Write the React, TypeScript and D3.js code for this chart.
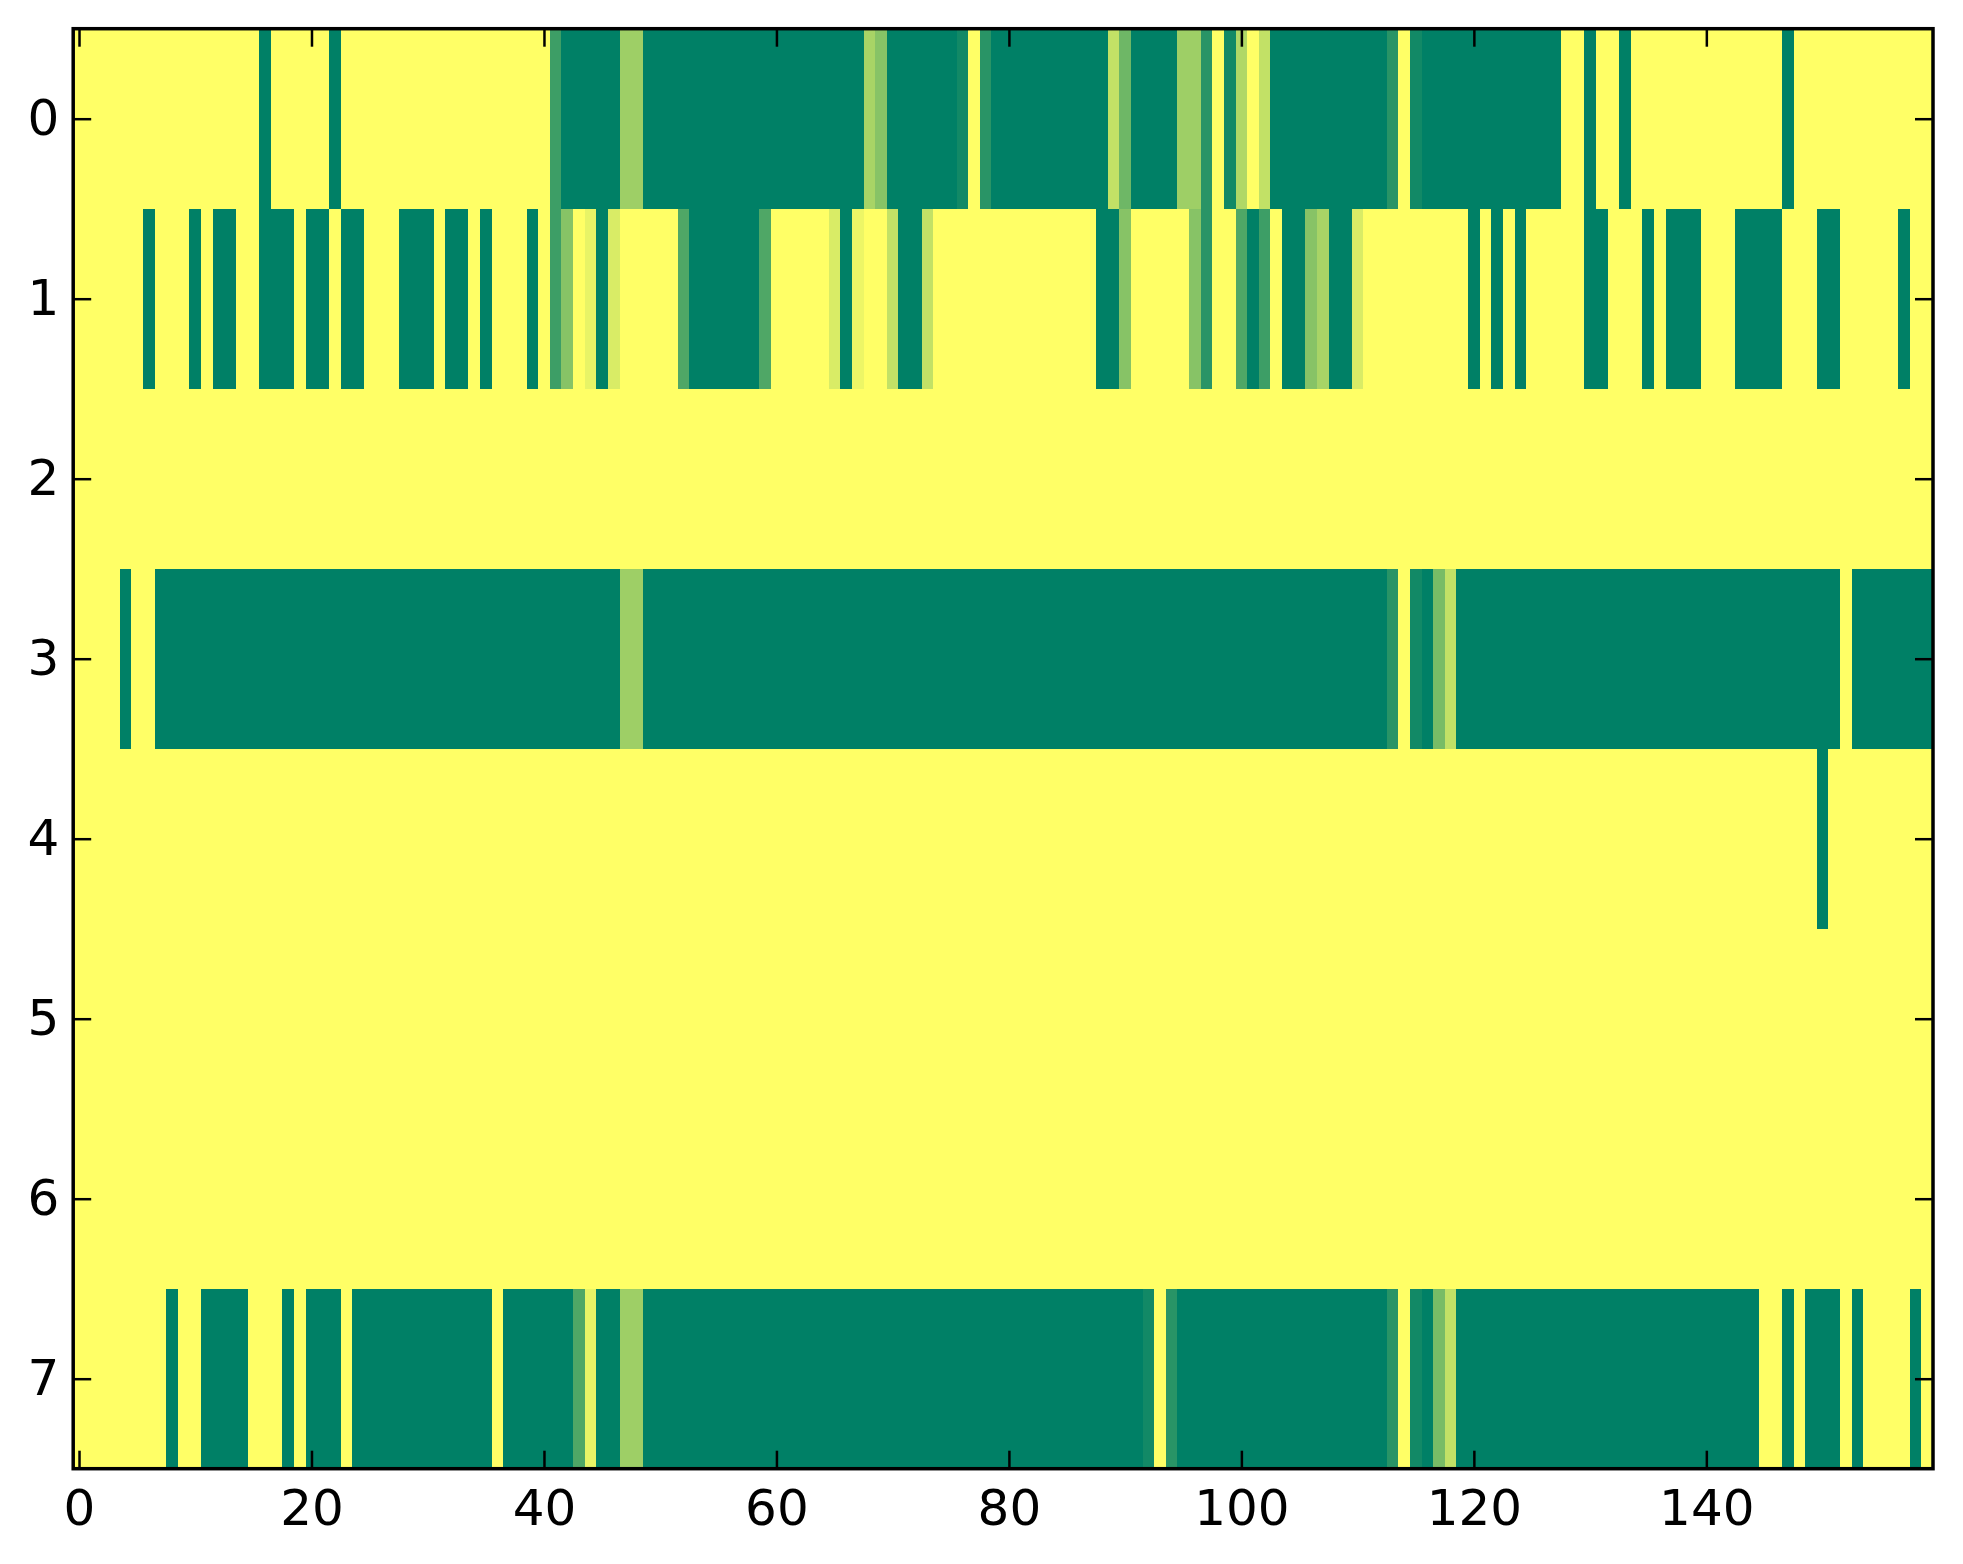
import React, { useRef, useEffect } from 'react';
import * as d3 from 'd3';

// heatmap values (summer colormap, 0 = green, 1 = yellow)
const rowLabels = [0, 1, 2, 3, 4, 5, 6, 7];
const xTicks = [0, 20, 40, 60, 80, 100, 120, 140];

const row0 = [
  1, 1, 1, 1, 1, 1, 1, 1, 1, 1, 1, 1, 1, 1, 1, 1, 0, 1, 1, 1,
  1, 1, 0, 1, 1, 1, 1, 1, 1, 1, 1, 1, 1, 1, 1, 1, 1, 1, 1, 1,
  1, 0.24, 0, 0, 0, 0, 0, 0.62, 0.62, 0, 0, 0, 0, 0, 0, 0, 0, 0, 0, 0,
  0, 0, 0, 0, 0, 0, 0, 0, 0.66, 0.53, 0, 0, 0, 0, 0, 0, 0.07, 1, 0.16, 0,
  0, 0, 0, 0, 0, 0, 0, 0, 0, 0.76, 0.43, 0, 0, 0, 0, 0.62, 0.62, 0.16, 1, 0.07,
  0.69, 1, 0.76, 0, 0, 0, 0, 0, 0, 0, 0, 0, 0, 0.16, 1, 0.07, 0, 0, 0, 0,
  0, 0, 0, 0, 0, 0, 0, 0, 1, 1, 0, 1, 1, 0, 1, 1, 1, 1, 1, 1,
  1, 1, 1, 1, 1, 1, 1, 0, 1, 1, 1, 1, 1, 1, 1, 1, 1, 1, 1, 1,
];

const row1 = [
  1, 1, 1, 1, 1, 1, 0, 1, 1, 1, 0, 1, 0, 0, 1, 1, 0, 0, 0, 1,
  0, 0, 1, 0, 0, 1, 1, 1, 0, 0, 0, 1, 0, 0, 1, 0, 1, 1, 1, 0,
  1, 0.24, 0.53, 1, 0.91, 0, 0.85, 1, 1, 1, 1, 1, 0.31, 0, 0, 0, 0, 0, 0, 0.31,
  1, 1, 1, 1, 1, 0.85, 0, 0.93, 1, 1, 0.76, 0, 0, 0.76, 1, 1, 1, 1, 1, 1,
  1, 1, 1, 1, 1, 1, 1, 1, 0, 0, 0.53, 1, 1, 1, 1, 1, 0.53, 0.16, 1, 1,
  0.31, 0, 0.24, 1, 0, 0, 0.53, 0.66, 0, 0, 0.85, 1, 1, 1, 1, 1, 1, 1, 1, 1,
  0, 1, 0, 1, 0, 1, 1, 1, 1, 1, 0, 0, 1, 1, 1, 0, 1, 0, 0, 0,
  1, 1, 1, 0, 0, 0, 0, 1, 1, 1, 0, 0, 1, 1, 1, 1, 1, 0, 1, 1,
];

const row2 = [
  1, 1, 1, 1, 1, 1, 1, 1, 1, 1, 1, 1, 1, 1, 1, 1, 1, 1, 1, 1,
  1, 1, 1, 1, 1, 1, 1, 1, 1, 1, 1, 1, 1, 1, 1, 1, 1, 1, 1, 1,
  1, 1, 1, 1, 1, 1, 1, 1, 1, 1, 1, 1, 1, 1, 1, 1, 1, 1, 1, 1,
  1, 1, 1, 1, 1, 1, 1, 1, 1, 1, 1, 1, 1, 1, 1, 1, 1, 1, 1, 1,
  1, 1, 1, 1, 1, 1, 1, 1, 1, 1, 1, 1, 1, 1, 1, 1, 1, 1, 1, 1,
  1, 1, 1, 1, 1, 1, 1, 1, 1, 1, 1, 1, 1, 1, 1, 1, 1, 1, 1, 1,
  1, 1, 1, 1, 1, 1, 1, 1, 1, 1, 1, 1, 1, 1, 1, 1, 1, 1, 1, 1,
  1, 1, 1, 1, 1, 1, 1, 1, 1, 1, 1, 1, 1, 1, 1, 1, 1, 1, 1, 1,
];

const row3 = [
  1, 1, 1, 1, 0, 1, 1, 0, 0, 0, 0, 0, 0, 0, 0, 0, 0, 0, 0, 0,
  0, 0, 0, 0, 0, 0, 0, 0, 0, 0, 0, 0, 0, 0, 0, 0, 0, 0, 0, 0,
  0, 0, 0, 0, 0, 0, 0, 0.62, 0.62, 0, 0, 0, 0, 0, 0, 0, 0, 0, 0, 0,
  0, 0, 0, 0, 0, 0, 0, 0, 0, 0, 0, 0, 0, 0, 0, 0, 0, 0, 0, 0,
  0, 0, 0, 0, 0, 0, 0, 0, 0, 0, 0, 0, 0, 0, 0, 0, 0, 0, 0, 0,
  0, 0, 0, 0, 0, 0, 0, 0, 0, 0, 0, 0, 0, 0.16, 1, 0.07, 0, 0.47, 0.76, 0,
  0, 0, 0, 0, 0, 0, 0, 0, 0, 0, 0, 0, 0, 0, 0, 0, 0, 0, 0, 0,
  0, 0, 0, 0, 0, 0, 0, 0, 0, 0, 0, 0, 1, 0, 0, 0, 0, 0, 0, 0,
];

const row4 = [
  1, 1, 1, 1, 1, 1, 1, 1, 1, 1, 1, 1, 1, 1, 1, 1, 1, 1, 1, 1,
  1, 1, 1, 1, 1, 1, 1, 1, 1, 1, 1, 1, 1, 1, 1, 1, 1, 1, 1, 1,
  1, 1, 1, 1, 1, 1, 1, 1, 1, 1, 1, 1, 1, 1, 1, 1, 1, 1, 1, 1,
  1, 1, 1, 1, 1, 1, 1, 1, 1, 1, 1, 1, 1, 1, 1, 1, 1, 1, 1, 1,
  1, 1, 1, 1, 1, 1, 1, 1, 1, 1, 1, 1, 1, 1, 1, 1, 1, 1, 1, 1,
  1, 1, 1, 1, 1, 1, 1, 1, 1, 1, 1, 1, 1, 1, 1, 1, 1, 1, 1, 1,
  1, 1, 1, 1, 1, 1, 1, 1, 1, 1, 1, 1, 1, 1, 1, 1, 1, 1, 1, 1,
  1, 1, 1, 1, 1, 1, 1, 1, 1, 1, 0, 1, 1, 1, 1, 1, 1, 1, 1, 1,
];

const row5 = [
  1, 1, 1, 1, 1, 1, 1, 1, 1, 1, 1, 1, 1, 1, 1, 1, 1, 1, 1, 1,
  1, 1, 1, 1, 1, 1, 1, 1, 1, 1, 1, 1, 1, 1, 1, 1, 1, 1, 1, 1,
  1, 1, 1, 1, 1, 1, 1, 1, 1, 1, 1, 1, 1, 1, 1, 1, 1, 1, 1, 1,
  1, 1, 1, 1, 1, 1, 1, 1, 1, 1, 1, 1, 1, 1, 1, 1, 1, 1, 1, 1,
  1, 1, 1, 1, 1, 1, 1, 1, 1, 1, 1, 1, 1, 1, 1, 1, 1, 1, 1, 1,
  1, 1, 1, 1, 1, 1, 1, 1, 1, 1, 1, 1, 1, 1, 1, 1, 1, 1, 1, 1,
  1, 1, 1, 1, 1, 1, 1, 1, 1, 1, 1, 1, 1, 1, 1, 1, 1, 1, 1, 1,
  1, 1, 1, 1, 1, 1, 1, 1, 1, 1, 1, 1, 1, 1, 1, 1, 1, 1, 1, 1,
];

const row6 = [
  1, 1, 1, 1, 1, 1, 1, 1, 1, 1, 1, 1, 1, 1, 1, 1, 1, 1, 1, 1,
  1, 1, 1, 1, 1, 1, 1, 1, 1, 1, 1, 1, 1, 1, 1, 1, 1, 1, 1, 1,
  1, 1, 1, 1, 1, 1, 1, 1, 1, 1, 1, 1, 1, 1, 1, 1, 1, 1, 1, 1,
  1, 1, 1, 1, 1, 1, 1, 1, 1, 1, 1, 1, 1, 1, 1, 1, 1, 1, 1, 1,
  1, 1, 1, 1, 1, 1, 1, 1, 1, 1, 1, 1, 1, 1, 1, 1, 1, 1, 1, 1,
  1, 1, 1, 1, 1, 1, 1, 1, 1, 1, 1, 1, 1, 1, 1, 1, 1, 1, 1, 1,
  1, 1, 1, 1, 1, 1, 1, 1, 1, 1, 1, 1, 1, 1, 1, 1, 1, 1, 1, 1,
  1, 1, 1, 1, 1, 1, 1, 1, 1, 1, 1, 1, 1, 1, 1, 1, 1, 1, 1, 1,
];

const row7 = [
  1, 1, 1, 1, 1, 1, 1, 1, 0, 1, 1, 0, 0, 0, 0, 1, 1, 1, 0, 1,
  0, 0, 0, 1, 0, 0, 0, 0, 0, 0, 0, 0, 0, 0, 0, 0, 1, 0, 0, 0,
  0, 0, 0, 0.31, 0.91, 0, 0, 0.62, 0.62, 0, 0, 0, 0, 0, 0, 0, 0, 0, 0, 0,
  0, 0, 0, 0, 0, 0, 0, 0, 0, 0, 0, 0, 0, 0, 0, 0, 0, 0, 0, 0,
  0, 0, 0, 0, 0, 0, 0, 0, 0, 0, 0, 0, 0.07, 1, 0.16, 0, 0, 0, 0, 0,
  0, 0, 0, 0, 0, 0, 0, 0, 0, 0, 0, 0, 0, 0.16, 1, 0.07, 0, 0.47, 0.76, 0,
  0, 0, 0, 0, 0, 0, 0, 0, 0, 0, 0, 0, 0, 0, 0, 0, 0, 0, 0, 0,
  0, 0, 0, 0, 0, 1, 1, 0, 1, 0, 0, 0, 1, 0, 1, 1, 1, 1, 0, 1,
];

const grid = [row0, row1, row2, row3, row4, row5, row6, row7];

const W = 1963;
const H = 1564;
const plot = { left: 73.2, right: 1933, top: 28.7, bottom: 1468.7 };

export default function App() {
  const ref = useRef<SVGSVGElement | null>(null);

  useEffect(() => {
    if (!ref.current) return;
    const svg = d3.select(ref.current);
    svg.selectAll('*').remove();

    const nCols = row0.length;
    const x = d3.scaleLinear().domain([-0.5, nCols - 0.5]).range([plot.left, plot.right]);
    const y = d3.scaleLinear().domain([-0.5, grid.length - 0.5]).range([plot.top, plot.bottom]);
    const color = d3.scaleLinear<string>()
      .domain([0, 1])
      .range(['#008066', '#ffff66'])
      .interpolate(d3.interpolateRgb);

    // cells
    const rows = svg.append('g').attr('shape-rendering', 'crispEdges');
    grid.forEach((vals, r) => {
      rows.selectAll(`rect.r${r}`)
        .data(vals)
        .enter()
        .append('rect')
        .attr('class', `r${r}`)
        .attr('x', (_, c) => x(c - 0.5))
        .attr('y', y(r - 0.5))
        .attr('width', (_, c) => x(c + 0.5) - x(c - 0.5))
        .attr('height', y(r + 0.5) - y(r - 0.5))
        .attr('fill', d => color(d));
    });

    const tick = 18;
    const font = '"DejaVu Sans", sans-serif';

    // axes, ticks pointing inward like matplotlib classic
    svg.append('g')
      .attr('transform', `translate(0,${plot.bottom})`)
      .call(d3.axisBottom(x).tickValues(xTicks).tickSize(-tick).tickSizeOuter(0).tickPadding(20.5));
    svg.append('g')
      .attr('transform', `translate(0,${plot.top})`)
      .call(d3.axisTop(x).tickValues(xTicks).tickSize(-tick).tickSizeOuter(0).tickFormat(() => ''));
    svg.append('g')
      .attr('transform', `translate(${plot.left},0)`)
      .call(d3.axisLeft(y).tickValues(rowLabels).tickSize(-tick).tickSizeOuter(0).tickPadding(14));
    svg.append('g')
      .attr('transform', `translate(${plot.right},0)`)
      .call(d3.axisRight(y).tickValues(rowLabels).tickSize(-tick).tickSizeOuter(0).tickFormat(() => ''));

    svg.selectAll('.domain').remove();
    svg.selectAll('.tick line').attr('stroke', '#000').attr('stroke-width', 2.5);
    svg.selectAll('.tick text')
      .attr('fill', '#000')
      .style('font-family', font)
      .style('font-size', '50px');

    // frame
    svg.append('rect')
      .attr('x', plot.left)
      .attr('y', plot.top)
      .attr('width', plot.right - plot.left)
      .attr('height', plot.bottom - plot.top)
      .attr('fill', 'none')
      .attr('stroke', '#000')
      .attr('stroke-width', 3.5);
  }, []);

  return (
    <svg
      ref={ref}
      width={W}
      height={H}
      style={{ position: 'absolute', left: 0, top: 0, background: '#fff' }}
    />
  );
}
